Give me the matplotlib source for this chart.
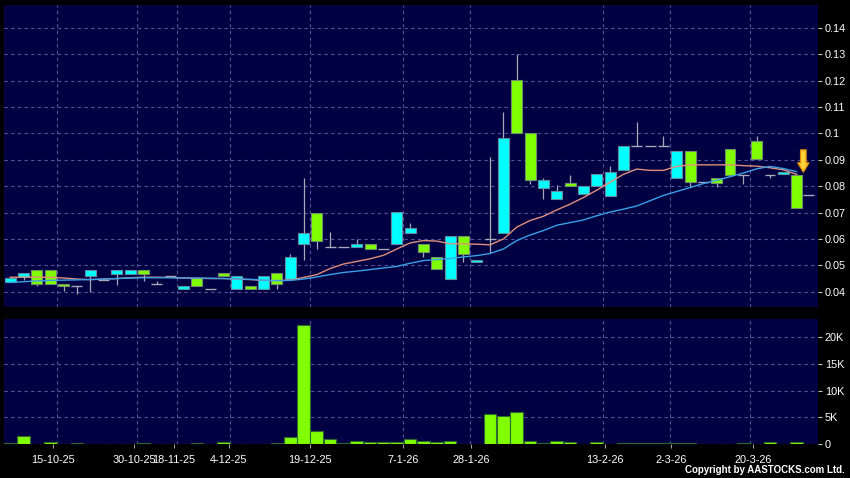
import numpy as np
import matplotlib
matplotlib.use("Agg")
import matplotlib.pyplot as plt
from matplotlib.patches import FancyArrow

plt.rcParams['font.family'] = ['Liberation Sans', 'DejaVu Sans']

# ---- data ----
opens = [0.0437, 0.0454, 0.0482, 0.0482, 0.0430, 0.0420, 0.0458, 0.0446, 0.0469, 0.0469,
         0.0482, 0.0430, 0.0458, 0.0410, 0.0452, 0.0410, 0.0470, 0.0410, 0.0423, 0.0410,
         0.0470, 0.0449, 0.0582, 0.0700, 0.0570, 0.0570, 0.0569, 0.0582, 0.0562, 0.0582,
         0.0622, 0.0582, 0.0531, 0.0450, 0.0610, 0.0512, 0.0600, 0.0622, 0.1203, 0.1001,
         0.0793, 0.0751, 0.0811, 0.0770, 0.0800, 0.0764, 0.0862, 0.0952, 0.0952, 0.0952,
         0.0832, 0.0933, 0.0816, 0.0832, 0.0941, 0.0844, 0.0970, 0.0841, 0.0845, 0.0841]
highs = [0.0452, 0.0471, 0.0482, 0.0482, 0.0430, 0.0420, 0.0482, 0.0446, 0.0482, 0.0482,
         0.0482, 0.0442, 0.0458, 0.0422, 0.0452, 0.0410, 0.0470, 0.0460, 0.0423, 0.0460,
         0.0470, 0.0544, 0.0831, 0.0700, 0.0625, 0.0570, 0.0600, 0.0582, 0.0562, 0.0702,
         0.0662, 0.0582, 0.0531, 0.0610, 0.0610, 0.0520, 0.0910, 0.1083, 0.1301, 0.1001,
         0.0833, 0.0803, 0.0843, 0.0800, 0.0845, 0.0876, 0.0951, 0.1043, 0.0952, 0.0990,
         0.0933, 0.0933, 0.0816, 0.0832, 0.0941, 0.0844, 0.0990, 0.0841, 0.0855, 0.0841]
lows = [0.0437, 0.0443, 0.0423, 0.0429, 0.0401, 0.0391, 0.0400, 0.0446, 0.0427, 0.0469,
        0.0439, 0.0430, 0.0458, 0.0410, 0.0420, 0.0410, 0.0458, 0.0410, 0.0409, 0.0410,
        0.0410, 0.0449, 0.0519, 0.0562, 0.0570, 0.0570, 0.0569, 0.0562, 0.0562, 0.0582,
        0.0622, 0.0531, 0.0488, 0.0450, 0.0511, 0.0512, 0.0546, 0.0622, 0.1003, 0.0809,
        0.0751, 0.0751, 0.0799, 0.0770, 0.0800, 0.0764, 0.0862, 0.0952, 0.0952, 0.0952,
        0.0832, 0.0797, 0.0816, 0.0797, 0.0844, 0.0810, 0.0903, 0.0832, 0.0845, 0.0716]
closes = [0.0452, 0.0471, 0.0429, 0.0429, 0.0420, 0.0420, 0.0482, 0.0446, 0.0482, 0.0482,
          0.0469, 0.0430, 0.0458, 0.0422, 0.0420, 0.0410, 0.0458, 0.0460, 0.0409, 0.0460,
          0.0430, 0.0531, 0.0622, 0.0593, 0.0570, 0.0570, 0.0582, 0.0562, 0.0562, 0.0702,
          0.0642, 0.0550, 0.0488, 0.0610, 0.0544, 0.0520, 0.0600, 0.0982, 0.1003, 0.0824,
          0.0824, 0.0783, 0.0799, 0.0800, 0.0845, 0.0855, 0.0951, 0.0952, 0.0952, 0.0952,
          0.0933, 0.0816, 0.0816, 0.0812, 0.0844, 0.0844, 0.0903, 0.0841, 0.0855, 0.0716]
volumes_k = [0.25, 1.55, 0.05, 0.45, 0.0, 0.25, 0.05, 0.0, 0.0, 0.0,
             0.1, 0.0, 0.0, 0.0, 0.2, 0.0, 0.45, 0.0, 0.05, 0.0,
             0.15, 1.35, 22.3, 2.4, 0.95, 0.25, 0.5, 0.3, 0.3, 0.4,
             1.0, 0.55, 0.4, 0.65, 0.0, 0.0, 5.7, 5.2, 5.9, 0.5,
             0.15, 0.65, 0.35, 0.0, 0.4, 0.0, 0.1, 0.15, 0.15, 0.15,
             0.15, 0.25, 0.0, 0.0, 0.0, 0.1, 0.05, 0.3, 0.0, 0.35]
ma_short = [0.0455, 0.0455, 0.0455, 0.0455, 0.0452, 0.0448, 0.0446, 0.0448, 0.0450, 0.0453,
            0.0455, 0.0455, 0.0454, 0.0452, 0.0451, 0.0450, 0.0450, 0.0448, 0.0446, 0.0443,
            0.0442, 0.0444, 0.0454, 0.0465, 0.0488, 0.0505, 0.0515, 0.0525, 0.0538, 0.0562,
            0.0585, 0.0594, 0.0592, 0.0582, 0.0582, 0.0580, 0.0578, 0.0600, 0.0645, 0.0670,
            0.0686, 0.0710, 0.0732, 0.0757, 0.0785, 0.0815, 0.0845, 0.0865, 0.0860, 0.0860,
            0.0875, 0.0881, 0.0881, 0.0881, 0.0881, 0.0878, 0.0876, 0.0870, 0.0862, 0.0845]
ma_long = [0.0435, 0.0438, 0.0441, 0.0443, 0.0444, 0.0445, 0.0446, 0.0448, 0.0450, 0.0452,
           0.0453, 0.0453, 0.0453, 0.0452, 0.0452, 0.0451, 0.0450, 0.0449, 0.0447, 0.0444,
           0.0442, 0.0443, 0.0448, 0.0456, 0.0465, 0.0473, 0.0478, 0.0484, 0.0490, 0.0496,
           0.0508, 0.0518, 0.0522, 0.0526, 0.0532, 0.0537, 0.0545, 0.0562, 0.0594, 0.0615,
           0.0632, 0.0652, 0.0662, 0.0672, 0.0688, 0.0702, 0.0713, 0.0725, 0.0745, 0.0765,
           0.0780, 0.0795, 0.0810, 0.0822, 0.0836, 0.0850, 0.0866, 0.0875, 0.0867, 0.0855]
last_marker = 0.0767
tick_pos = [3.23, 9.3, 12.28, 16.38, 22.48, 29.48, 34.56, 44.6, 49.6, 55.7]
tick_labels = ["15-10-25", "30-10-25", "18-11-25", "4-12-25", "19-12-25",
               "7-1-26", "28-1-26", "13-2-26", "2-3-26", "20-3-26"]
date_grid = [3.5, 9.5, 12.5, 16.5, 22.5, 29.5, 34.5, 44.5, 49.5, 55.5]
price_ticks = [0.04, 0.05, 0.06, 0.07, 0.08, 0.09, 0.10, 0.11, 0.12, 0.13, 0.14]
vol_ticks = [0, 5, 10, 15, 20]

# ---- styling ----
BG = '#000042'
GRID = '#55559a'
UP = '#00ffff'
DOWN = '#80ff00'
WICK = '#a8a8b8'

n = len(opens)
x = np.arange(n)
o = np.array(opens); c = np.array(closes); h = np.array(highs); l = np.array(lows)

W, H = 850, 478
fig = plt.figure(figsize=(8.5, 4.78), dpi=100, facecolor='black')
ax = fig.add_axes([4 / W, 1 - 306.5 / H, (818 - 4) / W, (306.5 - 5) / H])
axv = fig.add_axes([4 / W, 1 - 444 / H, (818 - 4) / W, (444 - 319) / H])

xlim = (-0.47, 60.6)
for a in (ax, axv):
    a.set_facecolor(BG)
    a.set_xlim(*xlim)
    for s in a.spines.values():
        s.set_visible(False)
    for g in date_grid:
        a.axvline(g, color=GRID, lw=0.8, ls=(0, (3, 3)), zorder=0.5)
    a.yaxis.tick_right()
    a.tick_params(axis='y', colors='#c8c8c8', labelcolor='white', length=3, width=0.8,
                  labelsize=7.8, pad=2)

# price panel
ax.set_ylim(0.0344, 0.1487)
for p in price_ticks:
    ax.axhline(p, color=GRID, lw=0.8, ls=(0, (3, 3)), zorder=0.5)
ax.set_yticks(price_ticks)
ax.set_yticklabels([('%.2f' % p).rstrip('0').rstrip('.') for p in price_ticks])
ax.set_xticks([])

# wicks
ax.vlines(x, l, h, color=WICK, lw=0.9, zorder=1)
# bodies
bw = 0.82
up = c > o
dn = c < o
dj = c == o
ax.bar(x[up], (c - o)[up], bottom=o[up], width=bw, color=UP, edgecolor='#5f8f9f', lw=0.8, zorder=2)
ax.bar(x[dn], (o - c)[dn], bottom=c[dn], width=bw, color=DOWN, edgecolor='#6f8f6f', lw=0.8, zorder=2)
ax.hlines(c[dj], x[dj] - bw / 2, x[dj] + bw / 2, color=WICK, lw=1.0, zorder=2)

# moving averages
ax.plot(x, ma_short, color='#e0907a', lw=1.0, zorder=3)
ax.plot(x, ma_long, color='#3aa0e8', lw=1.0, zorder=3)

# last price marker and arrow
ax.hlines(last_marker, n - 0.55, n + 0.3, color=WICK, lw=1.0, zorder=2)
tip = h[-1] + 0.0012
ax.add_patch(FancyArrow(n - 0.5, tip + 0.0085, 0, -0.0085, width=0.42, head_width=0.85,
                        head_length=0.0036, length_includes_head=True,
                        facecolor='#ffd23a', edgecolor='#e08a00', lw=0.9, zorder=5))

# volume panel
axv.set_ylim(0, 23.4)
for v in vol_ticks[1:]:
    axv.axhline(v, color=GRID, lw=0.8, ls=(0, (3, 3)), zorder=0.5)
axv.bar(x, volumes_k, width=0.95, color=DOWN, edgecolor='#2f6a2f', lw=0.8, zorder=2)
axv.set_yticks(vol_ticks)
axv.set_yticklabels(['0' if v == 0 else '%dK' % v for v in vol_ticks])
axv.set_xticks(tick_pos)
axv.set_xticklabels(tick_labels)
axv.tick_params(axis='x', colors='#a0a0a0', labelcolor='white', length=3, width=0.8,
                labelsize=7.8, pad=5)

fig.text(845 / W, 1 - 475 / H, "Copyright by AASTOCKS.com Ltd.", ha='right', va='bottom',
         color='white', fontsize=7, fontweight='bold')

fig.savefig('out.png', dpi=100, facecolor='black')
